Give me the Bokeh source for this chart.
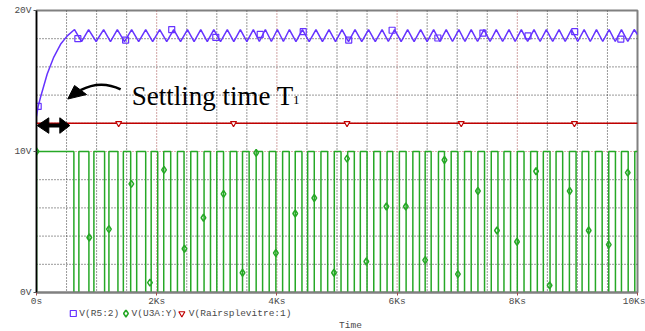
from bokeh.plotting import figure
from bokeh.models import Range1d, Span, Label, FixedTicker
from bokeh.layouts import column
from bokeh.core.properties import value
from bokeh.embed import file_html
from bokeh.resources import INLINE

# ---------------- data (time in seconds, volts) ----------------
x_ticks = [0, 2000, 4000, 6000, 8000, 10000]
x_tick_labels = ["0s", "2Ks", "4Ks", "6Ks", "8Ks", "10Ks"]
y_ticks = [0, 10, 20]
y_tick_labels = ["0V", "10V", "20V"]

# V(R5:2) - settling curve with ripple (vertices)
blue_t = [0, 28, 67, 178, 288, 400, 512, 633, 750, 867, 992, 1117, 1231, 1345,
          1464, 1583, 1700, 1817, 1933, 2050, 2167, 2283, 2397, 2512, 2622, 2733,
          2842, 2950, 3062, 3175, 3283, 3392, 3500, 3608, 3708, 3808, 3908, 4008,
          4108, 4208, 4317, 4425, 4537, 4650, 4758, 4867, 4975, 5083, 5192, 5300,
          5412, 5525, 5637, 5750, 5854, 5958, 6067, 6175, 6283, 6392, 6500, 6608,
          6712, 6817, 6922, 7028, 7130, 7233, 7339, 7445, 7547, 7650, 7756, 7862,
          7964, 8067, 8172, 8278, 8380, 8483, 8589, 8695, 8797, 8900, 9006, 9112,
          9214, 9317, 9422, 9528, 9630, 9733, 9839, 9945, 10000]
blue_v = [12.5, 13.2, 13.85, 15.5, 16.7, 17.6, 18.2, 18.65, 17.8, 18.65, 17.8, 18.65,
          17.8, 18.65, 17.8, 18.65, 17.8, 18.65, 17.8, 18.65, 17.8, 18.65, 17.8, 18.65,
          17.8, 18.65, 17.8, 18.65, 17.8, 18.65, 17.8, 18.65, 17.8, 18.65, 17.8, 18.65,
          17.8, 18.65, 17.8, 18.65, 17.8, 18.65, 17.8, 18.65, 17.8, 18.65, 17.8, 18.65,
          17.8, 18.65, 17.8, 18.65, 17.8, 18.65, 17.8, 18.65, 17.8, 18.65, 17.8, 18.65,
          17.8, 18.65, 17.8, 18.65, 17.8, 18.65, 17.8, 18.65, 17.8, 18.65, 17.8, 18.65,
          17.8, 18.65, 17.8, 18.65, 17.8, 18.65, 17.8, 18.65, 17.8, 18.65, 17.8, 18.65,
          17.8, 18.65, 17.8, 18.65, 17.8, 18.65, 17.8, 18.65, 17.8, 18.65, 18.3]
blue_mark_t = [28, 688, 1483, 2250, 2983, 3722, 4438, 5195, 5917, 6678, 7428, 8178, 8955, 9722]
blue_mark_v = [13.2, 18.0, 17.9, 18.65, 18.1, 18.3, 18.5, 17.9, 18.6, 18.05, 18.4, 18.2, 18.5, 17.97]

# V(U3A:Y) - comparator output, 0 / 10 V, edges
green_low, green_high = 0.0, 10.0
green_fall = [622, 872, 1133, 1355, 1567, 1817, 2017, 2233, 2455, 2678, 2895, 3112,
              3333, 3538, 3762, 3983, 4205, 4417, 4622, 4845, 5067, 5288, 5500, 5722,
              5928, 6150, 6372, 6567, 6788, 7012, 7233, 7455, 7678, 7888, 8112, 8333,
              8545, 8755, 8978, 9188, 9412, 9633, 9845]
green_rise = [705, 955, 1205, 1445, 1667, 1908, 2117, 2345, 2567, 2788, 3000, 3222,
              3428, 3655, 3872, 4095, 4305, 4512, 4733, 4955, 5178, 5388, 5612, 5833,
              6038, 6262, 6467, 6688, 6900, 7122, 7345, 7567, 7778, 8000, 8222, 8433,
              8645, 8867, 9078, 9300, 9522, 9733, 9955]
green_mark_t = [0, 878, 1205, 1578, 1888, 2122, 2462, 2778, 3112, 3428, 3655, 3983,
                4305, 4622, 4950, 5167, 5488, 5822, 6145, 6467, 6788, 7012, 7345, 7662,
                7995, 8312, 8538, 8872, 9188, 9522, 9838]
green_mark_v = [10.0, 3.9, 4.5, 7.7, 0.7, 8.7, 3.1, 5.3, 7.0, 1.4, 9.9, 2.8,
                5.6, 6.7, 1.4, 9.5, 2.2, 6.1, 6.1, 2.3, 9.4, 1.3, 7.2, 4.4,
                3.6, 8.6, 0.5, 7.2, 4.4, 3.4, 8.5]

# V(Rairsplevitre:1) - constant reference
red_t = [0, 10000]
red_v = [12.0, 12.0]
red_mark_t = [1367, 3278, 5167, 7067, 8950]
red_mark_v = [12.0, 12.0, 12.0, 12.0, 12.0]

series_names = ["V(R5:2)", "V(U3A:Y)", "V(Rairsplevitre:1)"]
x_title = "Time"

# ---------------- build green step path ----------------
gx = [0, 0]
gy = [green_low, green_high]
level = green_high
edges = sorted([(t, green_low) for t in green_fall] + [(t, green_high) for t in green_rise])
for t, lv in edges:
    gx += [t, t]
    gy += [level, lv]
    level = lv
gx.append(10000)
gy.append(level)

BLUE = "#6633ff"
GREEN = "#26a826"
RED = "#c00000"
MONO = "Liberation Mono"
GRAYTXT = "#4a4a4a"

p = figure(width=645, height=309, x_range=Range1d(0, 10000), y_range=Range1d(0, 20),
           output_backend="svg", toolbar_location=None,
           min_border_left=36, min_border_right=8, min_border_top=10, min_border_bottom=17)
p.xgrid.visible = False
p.ygrid.visible = False
p.background_fill_color = "white"
p.border_fill_color = "white"
p.outline_line_color = "#808080"
p.outline_line_width = 2

# grid
for t in range(500, 10000, 500):
    major = (t % 2000 == 0)
    p.add_layout(Span(location=t, dimension="height",
                      line_color="#a04848" if major else "#333333",
                      line_dash="1 2", line_width=1, level="underlay"))
for v in range(2, 20, 2):
    p.add_layout(Span(location=v, dimension="width",
                      line_color="#c06060" if v == 10 else "#333333",
                      line_dash="1 2", line_width=1, level="underlay"))

# axes
p.xaxis.ticker = FixedTicker(ticks=x_ticks)
p.xaxis.major_label_overrides = {t: l for t, l in zip(x_ticks, x_tick_labels)}
p.yaxis.ticker = FixedTicker(ticks=y_ticks)
p.yaxis.major_label_overrides = {t: l for t, l in zip(y_ticks, y_tick_labels)}
for ax in (p.xaxis, p.yaxis):
    ax.minor_tick_line_color = None
    ax.major_tick_in = 0
    ax.major_tick_out = 3
    ax.major_label_text_font = MONO
    ax.major_label_text_font_size = "9.5px"
    ax.major_label_text_color = GRAYTXT
p.xaxis.major_label_standoff = 0
p.yaxis.major_label_standoff = 2
p.xaxis.axis_line_color = "#808080"
p.xaxis.axis_line_width = 2
p.xaxis.major_tick_line_color = "#a04848"
p.yaxis.axis_line_color = "black"
p.yaxis.axis_line_width = 1.5
p.yaxis.major_tick_line_color = "#555555"

# series
p.line(gx, gy, line_color=GREEN, line_width=1.5)
p.scatter(green_mark_t, green_mark_v, marker="diamond", size=7, fill_color=None,
          line_color=GREEN, line_width=1.5)
p.line(red_t, red_v, line_color=RED, line_width=1.5)
p.scatter(red_mark_t, red_mark_v, marker="inverted_triangle", size=6, fill_color="white",
          line_color=RED, line_width=1.2)
p.line(blue_t, blue_v, line_color=BLUE, line_width=1.5)
p.scatter(blue_mark_t, blue_mark_v, marker="square", size=6, fill_color=None,
          line_color=BLUE, line_width=1.2)

# annotation: curved arrow
p.quadratic(x0=[1400], y0=[14.4], x1=[733], y1=[14.35], cx=[1067], cy=[15.1],
            line_color="black", line_width=2.5)
p.patch([520, 633, 833], [13.72, 14.68, 14.04], fill_color="black", line_color="black")
# double arrow
p.segment(x0=[150], y0=[11.84], x1=[420], y1=[11.84], line_color="black", line_width=4)
p.patch([12, 205, 205], [11.84, 12.39, 11.29], fill_color="black", line_color="black")
p.patch([555, 388, 388], [11.84, 12.39, 11.29], fill_color="black", line_color="black")

p.add_layout(Label(x=1583, y=13.93, text="Settling time T", text_font="Liberation Serif",
                   text_font_size="27px", text_color="black", text_baseline="alphabetic"))
p.add_layout(Label(x=4267, y=13.63, text="1", text_font="Liberation Serif",
                   text_font_size="13px", text_color="black", text_baseline="alphabetic"))

# ---------------- legend strip under the axis (pixel space) ----------------
leg = figure(width=645, height=22, x_range=Range1d(0, 645), y_range=Range1d(22, 0),
             output_backend="svg", toolbar_location=None,
             x_axis_location=None, y_axis_location=None,
             min_border_left=0, min_border_right=0, min_border_top=0, min_border_bottom=0)
leg.xgrid.visible = False
leg.ygrid.visible = False
leg.outline_line_color = None
leg.background_fill_color = "white"
leg.border_fill_color = "white"
sym_x = [39.5, 96, 156]
txt_x = [46, 102, 163.5]
leg.scatter([sym_x[0]], [4], marker="square", size=6, fill_color=None, line_color=BLUE, line_width=1.2)
leg.scatter([sym_x[1]], [4], marker="diamond", size=7, fill_color=None, line_color=GREEN, line_width=1.5)
leg.scatter([sym_x[2]], [4], marker="inverted_triangle", size=6, fill_color=None, line_color=RED, line_width=1.2)
leg.text(x=txt_x, y=[4, 4, 4], text=series_names, text_font=value(MONO),
         text_font_size="9.5px", text_color=GRAYTXT, text_baseline="middle")
leg.text(x=[337], y=[16], text=[x_title], text_font=value(MONO),
         text_font_size="9.5px", text_color=GRAYTXT, text_baseline="middle", text_align="center")

layout = column(p, leg, spacing=0)
open("out.html", "w").write(file_html(layout, INLINE))
